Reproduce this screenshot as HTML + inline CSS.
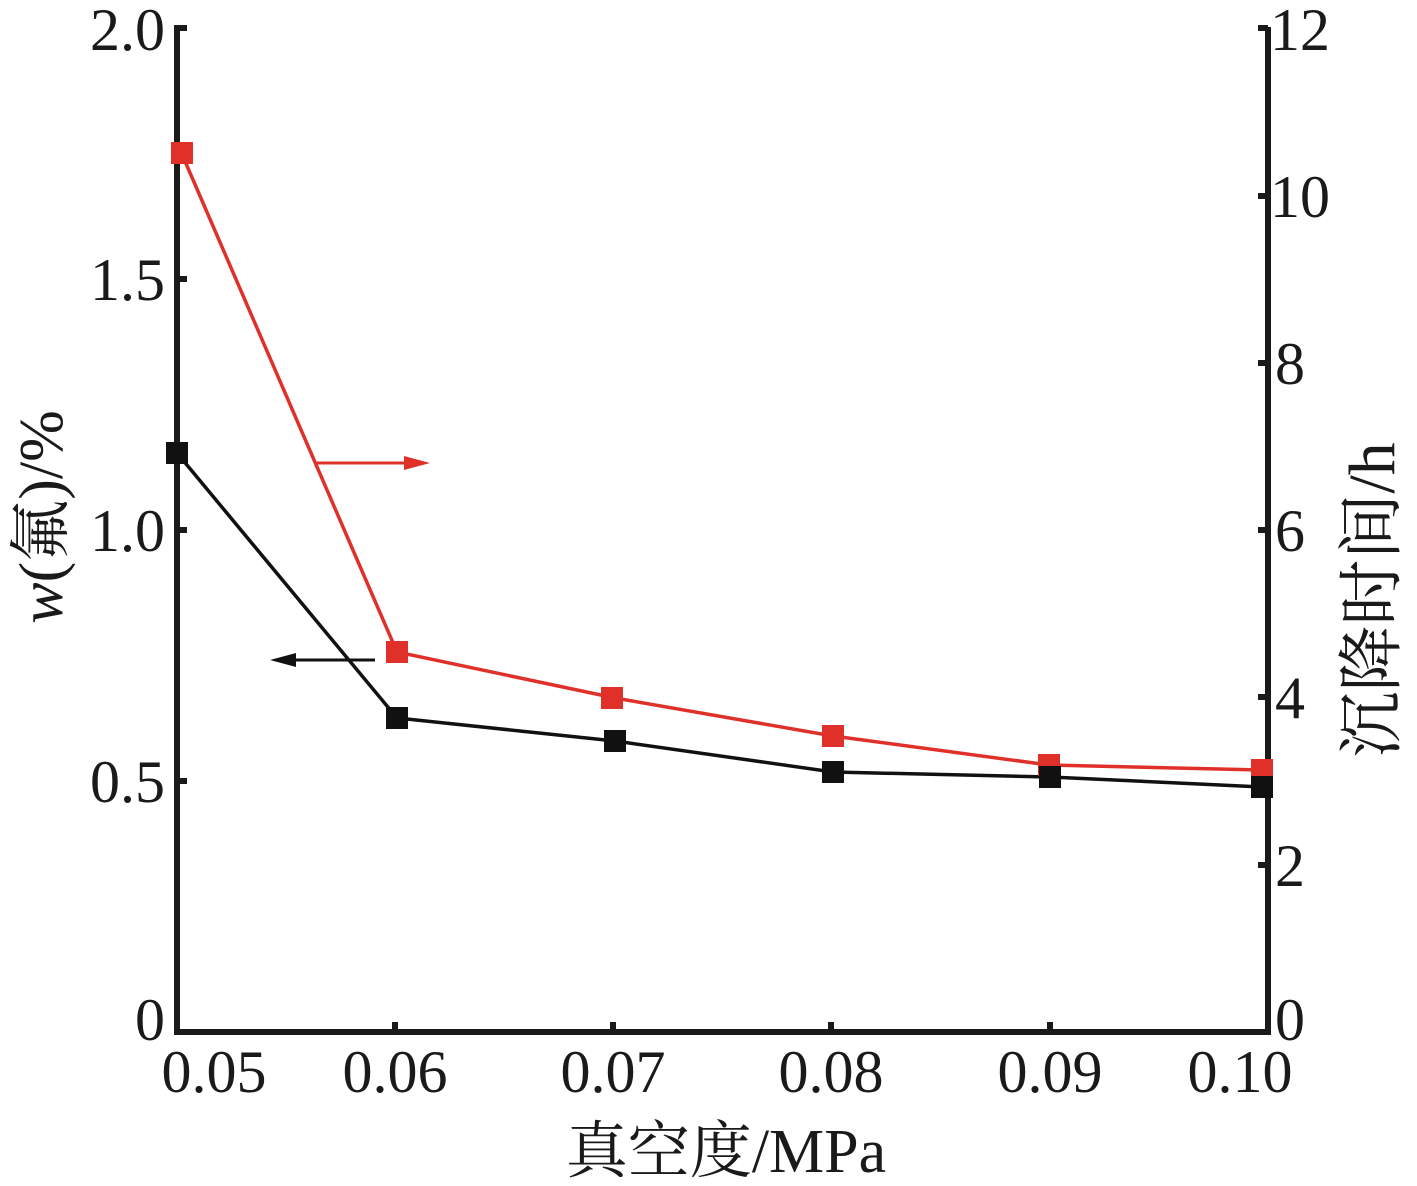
<!DOCTYPE html>
<html><head><meta charset="utf-8"><style>body{margin:0;background:#fff}</style></head><body>
<svg width="1417" height="1181" xmlns="http://www.w3.org/2000/svg" font-family="Liberation Serif, 'Noto Serif CJK SC', serif">
<g stroke="#1a1a1a" stroke-width="6" fill="none">
<line x1="177" y1="25" x2="177" y2="1035"/>
<line x1="174" y1="1032" x2="1270" y2="1032"/>
<line x1="1268" y1="27" x2="1268" y2="1035"/>
<line x1="1258" y1="28" x2="1268" y2="28"/>
<line x1="177" y1="28" x2="187" y2="28"/>
<line x1="177" y1="279" x2="187" y2="279"/>
<line x1="177" y1="530" x2="187" y2="530"/>
<line x1="177" y1="781" x2="187" y2="781"/>
<line x1="395" y1="1032" x2="395" y2="1022"/>
<line x1="613" y1="1032" x2="613" y2="1022"/>
<line x1="831" y1="1032" x2="831" y2="1022"/>
<line x1="1050" y1="1032" x2="1050" y2="1022"/>
<line x1="1258" y1="196" x2="1268" y2="196"/>
<line x1="1258" y1="363" x2="1268" y2="363"/>
<line x1="1258" y1="530" x2="1268" y2="530"/>
<line x1="1258" y1="697" x2="1268" y2="697"/>
<line x1="1258" y1="865" x2="1268" y2="865"/>
</g>
<g font-size="60" fill="#1a1a1a">
<g text-anchor="end">
<text x="165" y="50">2.0</text><text x="165" y="300">1.5</text><text x="165" y="551">1.0</text><text x="165" y="802">0.5</text><text x="165" y="1040">0</text>
</g>
<g text-anchor="start">
<text x="1270" y="50">12</text><text x="1270" y="217">10</text><text x="1275" y="384">8</text><text x="1275" y="551">6</text><text x="1275" y="718">4</text><text x="1275" y="886">2</text><text x="1275" y="1040">0</text>
</g>
<g text-anchor="middle">
<text x="214" y="1092">0.05</text><text x="395" y="1092">0.06</text><text x="613" y="1092">0.07</text><text x="831" y="1092">0.08</text><text x="1050" y="1092">0.09</text><text x="1240" y="1092">0.10</text>
<text x="726" y="1172" font-size="62">真空度/MPa</text>
</g>
<text transform="translate(62,517) rotate(-90)" text-anchor="middle" font-size="62"><tspan font-style="italic">w</tspan>(氟)/%</text>
<text transform="translate(1394,600) rotate(-90)" text-anchor="middle" font-size="66">沉降时间/h</text>
</g>
<polyline points="181,152 397,652 615,698 833,736 1049,765 1262,770" fill="none" stroke="#e0302a" stroke-width="3.5"/>
<polyline points="177,453 397,718 615,741 833,772 1050,777 1262,787" fill="none" stroke="#111" stroke-width="3.5"/>
<g fill="#e0302a">
<rect x="171" y="142" width="22" height="22"/><rect x="386" y="641" width="22" height="22"/><rect x="601" y="687" width="22" height="22"/><rect x="822" y="725" width="22" height="22"/><rect x="1038" y="754" width="22" height="22"/><rect x="1251" y="759" width="22" height="22"/>
</g>
<g fill="#111">
<rect x="166" y="442" width="22" height="22"/><rect x="386" y="707" width="22" height="22"/><rect x="604" y="730" width="22" height="22"/><rect x="822" y="761" width="22" height="22"/><rect x="1039" y="766" width="22" height="22"/><rect x="1251" y="776" width="22" height="22"/>
</g>
<line x1="317" y1="463" x2="410" y2="463" stroke="#e0302a" stroke-width="3"/>
<polygon points="430,463 404,456 404,470" fill="#e0302a"/>
<line x1="290" y1="660" x2="375" y2="660" stroke="#111" stroke-width="3"/>
<polygon points="270,660 296,653 296,667" fill="#111"/>
</svg>
</body></html>
